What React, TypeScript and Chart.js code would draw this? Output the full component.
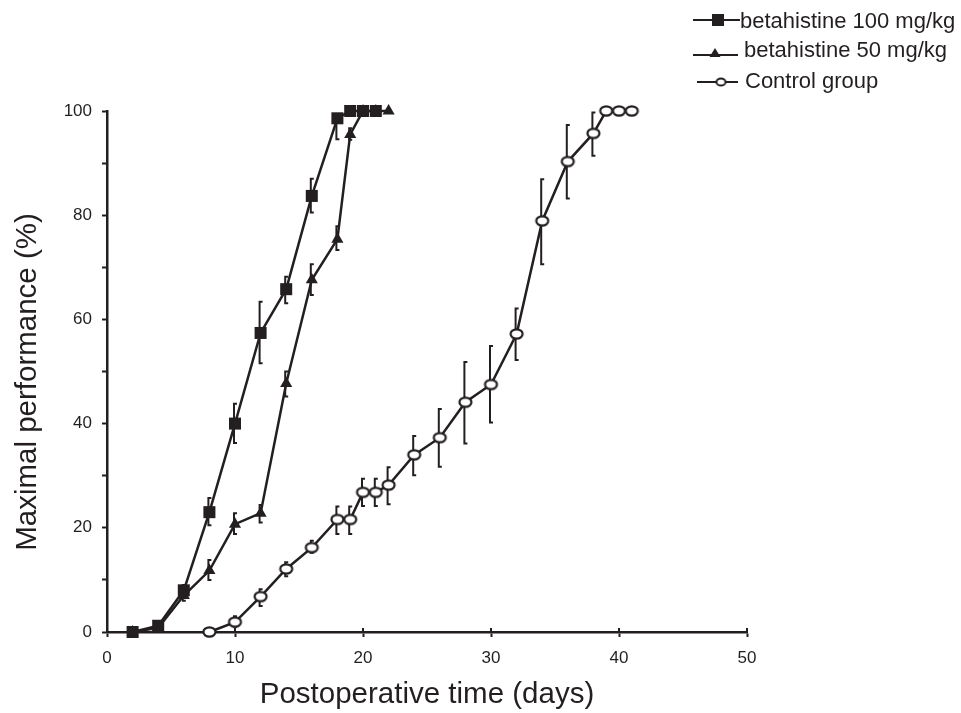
import React, { useEffect, useRef } from "react";
import { Chart, registerables } from "chart.js";

Chart.register(...registerables);

const INK = "#231f20";

// Series labels
const seriesNames = ["betahistine 100 mg/kg", "betahistine 50 mg/kg", "Control group"];

// betahistine 100 mg/kg
const days100 = [2, 4, 6, 8, 10, 12, 14, 16, 18, 19, 20, 21];
const perf100 = [0, 1.2, 8, 23, 40, 57.4, 65.8, 83.7, 98.6, 100, 100, 100];
const lo100 = [0, 1.2, 7, 20.5, 36.3, 51.6, 63.1, 80.5, 94.6, 100, 100, 100];
const hi100 = [0, 1.2, 9, 25.7, 43.8, 63.4, 68.2, 87, 98.6, 100, 100, 100];

// betahistine 50 mg/kg
const days50 = [2, 4, 6, 8, 10, 12, 14, 16, 18, 19, 20, 21, 22];
const perf50 = [0, 0.8, 7, 11.8, 20.7, 22.8, 47.7, 67.6, 75.4, 95.5, 100, 100, 100];
const lo50 = [0, 0.8, 6, 10, 18.8, 21, 45.2, 64.7, 73.3, 94.5, 100, 100, 100];
const hi50 = [0, 0.8, 8, 13.8, 22.8, 24.4, 50, 70.6, 77.9, 96.7, 100, 100, 100];

// Control group
const daysC = [8, 10, 12, 14, 16, 18, 19, 20, 21, 22, 24, 26, 28, 30, 32, 34, 36, 38, 39, 40, 41];
const perfC = [0, 1.9, 6.8, 12.1, 16.2, 21.6, 21.6, 26.8, 26.8, 28.2, 34.0, 37.3, 44.1, 47.5, 57.2, 78.9, 90.3, 95.7, 100, 100, 100];
const loC = [0, 1, 5, 10.7, 15.2, 18.8, 18.8, 24.2, 24.2, 24.5, 30.1, 31.7, 36.2, 40.2, 52.2, 70.6, 83.2, 91.4, 100, 100, 100];
const hiC = [0, 3, 8.2, 13.4, 17.5, 24.1, 24.1, 29.4, 29.4, 31.6, 37.6, 42.8, 51.8, 54.9, 62.1, 86.9, 97.3, 99.7, 100, 100, 100];

// Axis ticks
const xTicks = [0, 10, 20, 30, 40, 50];
const yTicks = [0, 10, 20, 30, 40, 50, 60, 70, 80, 90, 100];
const yLabelStep = 20;

const xTitle = "Postoperative time (days)";
const yTitle = "Maximal performance (%)";

const FONT = "'Liberation Sans', Arial, Helvetica, sans-serif";

function makeEllipse(rx: number, ry: number, lw: number): HTMLCanvasElement {
  const c = document.createElement("canvas");
  c.width = Math.ceil(rx * 2 + lw + 2);
  c.height = Math.ceil(ry * 2 + lw + 2);
  const g = c.getContext("2d")!;
  g.beginPath();
  g.ellipse(c.width / 2, c.height / 2, rx, ry, 0, 0, Math.PI * 2);
  g.fillStyle = "#ffffff";
  g.fill();
  g.lineWidth = lw;
  g.strokeStyle = INK;
  g.stroke();
  return c;
}

export default function App() {
  const ref = useRef<HTMLCanvasElement | null>(null);

  useEffect(() => {
    const canvas = ref.current;
    if (!canvas) return;
    const ellipseBig = makeEllipse(6, 4.6, 2.2);
    const ellipseSmall = makeEllipse(4.5, 3.6, 2);

    const errLo = [lo100, lo50, loC];
    const errHi = [hi100, hi50, hiC];

    const errorBars = {
      id: "errorBars",
      beforeDatasetsDraw(chart: any) {
        const ctx = chart.ctx;
        const ys = chart.scales.y;
        ctx.save();
        ctx.strokeStyle = INK;
        ctx.lineWidth = 2;
        chart.data.datasets.forEach((_ds: any, di: number) => {
          const meta = chart.getDatasetMeta(di);
          meta.data.forEach((pt: any, i: number) => {
            const lo = errLo[di][i];
            const hi = errHi[di][i];
            if (hi - lo < 0.5) return;
            const x = pt.x - 1;
            const y1 = ys.getPixelForValue(hi);
            const y2 = ys.getPixelForValue(lo);
            ctx.beginPath();
            ctx.moveTo(x + 3, y1);
            ctx.lineTo(x, y1);
            ctx.lineTo(x, y2);
            ctx.lineTo(x + 3, y2);
            ctx.stroke();
          });
        });
        ctx.restore();
      },
    };

    const extras = {
      id: "extras",
      afterDraw(chart: any) {
        const ctx = chart.ctx;
        const area = chart.chartArea;
        const xs = chart.scales.x;
        ctx.save();
        ctx.fillStyle = INK;
        ctx.strokeStyle = INK;

        // inner half of the x tick marks (they cross the axis)
        ctx.lineWidth = 2;
        xTicks.forEach((v) => {
          if (v === 0) return;
          const px = xs.getPixelForValue(v);
          ctx.beginPath();
          ctx.moveTo(px, area.bottom);
          ctx.lineTo(px, area.bottom - 4);
          ctx.stroke();
        });

        // axis titles
        ctx.font = `29.5px ${FONT}`;
        ctx.textAlign = "center";
        ctx.textBaseline = "middle";
        ctx.fillText(xTitle, (area.left + area.right) / 2, 695);
        ctx.save();
        ctx.translate(28, 382);
        ctx.rotate(-Math.PI / 2);
        ctx.fillText(yTitle, 0, 0);
        ctx.restore();

        // legend
        const rows = [
          { ly: 20, ty: 22, x0: 693, x1: 740, mx: 718, tx: 740 },
          { ly: 55, ty: 51, x0: 693, x1: 738, mx: 715, tx: 744 },
          { ly: 82, ty: 82, x0: 697, x1: 738, mx: 721, tx: 745 },
        ];
        ctx.font = `22px ${FONT}`;
        ctx.textAlign = "left";
        rows.forEach((r, i) => {
          ctx.lineWidth = 2.2;
          ctx.beginPath();
          ctx.moveTo(r.x0, r.ly);
          ctx.lineTo(r.x1, r.ly);
          ctx.stroke();
          if (i === 0) {
            ctx.fillRect(r.mx - 6, r.ly - 6, 12, 12);
          } else if (i === 1) {
            ctx.beginPath();
            ctx.moveTo(r.mx, r.ly - 7);
            ctx.lineTo(r.mx + 5.5, r.ly + 2);
            ctx.lineTo(r.mx - 5.5, r.ly + 2);
            ctx.closePath();
            ctx.fill();
          } else {
            ctx.drawImage(ellipseSmall, r.mx - ellipseSmall.width / 2, r.ly - ellipseSmall.height / 2);
          }
          ctx.fillText(seriesNames[i], r.tx, r.ty);
        });
        ctx.restore();
      },
    };

    const toPts = (xs: number[], ys: number[]) => xs.map((d, i) => ({ x: d, y: ys[i] }));

    const chart = new Chart(canvas, {
      type: "line",
      data: {
        datasets: [
          {
            label: seriesNames[0],
            data: toPts(days100, perf100),
            borderColor: INK,
            backgroundColor: INK,
            borderWidth: 2.5,
            pointStyle: "rect",
            pointRadius: 8.5,
            pointBorderWidth: 0,
            pointBackgroundColor: INK,
            clip: false as any,
            order: 1,
          },
          {
            label: seriesNames[1],
            data: toPts(days50, perf50),
            borderColor: INK,
            backgroundColor: INK,
            borderWidth: 2.5,
            pointStyle: "triangle",
            pointRadius: 7,
            pointBorderWidth: 0,
            pointBackgroundColor: INK,
            clip: false as any,
            order: 2,
          },
          {
            label: seriesNames[2],
            data: toPts(daysC, perfC),
            borderColor: INK,
            backgroundColor: "#ffffff",
            borderWidth: 2.5,
            pointStyle: ellipseBig as any,
            pointRadius: 6,
            clip: false as any,
            order: 3,
          },
        ],
      },
      options: {
        animation: false,
        responsive: false,
        devicePixelRatio: 1,
        events: [],
        layout: { padding: { left: 0, top: 111, right: 214, bottom: 0 } },
        plugins: {
          legend: { display: false },
          tooltip: { enabled: false },
        },
        scales: {
          x: {
            type: "linear",
            min: 0,
            max: 50,
            afterFit: (s: any) => {
              s.height = 81;
            },
            afterBuildTicks: (s: any) => {
              s.ticks = xTicks.map((v) => ({ value: v }));
            },
            border: { display: true, color: INK, width: 2.5 },
            grid: {
              display: true,
              drawOnChartArea: false,
              drawTicks: true,
              tickLength: 5,
              tickWidth: 2,
              tickColor: INK,
            },
            ticks: {
              color: INK,
              font: { family: FONT, size: 17 },
              padding: 11,
              maxRotation: 0,
              autoSkip: false,
            },
          },
          y: {
            type: "linear",
            min: 0,
            max: 100,
            afterFit: (s: any) => {
              s.width = 107;
            },
            afterBuildTicks: (s: any) => {
              s.ticks = yTicks.map((v) => ({ value: v }));
            },
            border: { display: true, color: INK, width: 2.5 },
            grid: {
              display: true,
              drawOnChartArea: false,
              drawTicks: true,
              tickLength: 5,
              tickWidth: 2,
              tickColor: INK,
            },
            ticks: {
              color: INK,
              font: { family: FONT, size: 17 },
              padding: 10,
              autoSkip: false,
              callback: (v: any) => (Number(v) % yLabelStep === 0 ? String(v) : ""),
            },
          },
        },
      },
      plugins: [errorBars, extras],
    });

    return () => chart.destroy();
  }, []);

  return (
    <div style={{ position: "absolute", left: 0, top: 0, width: 961, height: 713, background: "#fff" }}>
      <canvas ref={ref} width={961} height={713} style={{ display: "block", width: 961, height: 713 }} />
    </div>
  );
}
